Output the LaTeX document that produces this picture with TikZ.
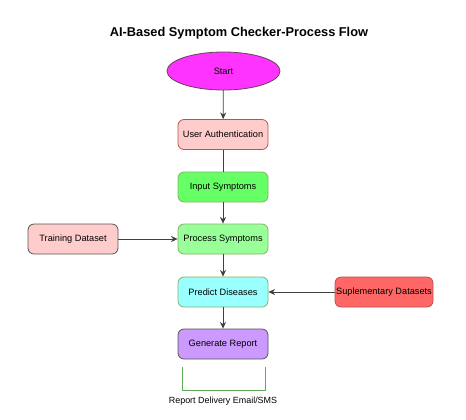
\documentclass[tikz,border=0pt]{standalone}
\usepackage{fontspec}
\setmainfont{Liberation Sans}
\usetikzlibrary{shapes.geometric,arrows.meta}
\definecolor{magentaF}{HTML}{FF33FF}
\definecolor{pinkF}{HTML}{FFCCCC}
\definecolor{redB}{HTML}{B85450}
\definecolor{greenF}{HTML}{66FF66}
\definecolor{lgreenF}{HTML}{99FF99}
\definecolor{greenB}{HTML}{82B366}
\definecolor{cyanF}{HTML}{99FFFF}
\definecolor{redF}{HTML}{FF6666}
\definecolor{purpleF}{HTML}{CC99FF}
\definecolor{grayB}{HTML}{555555}
\definecolor{bracketG}{HTML}{5AAA5A}
\begin{document}
\begin{tikzpicture}[x=0.75pt,y=-0.75pt,
  box/.style={draw, rounded corners=4.5pt, minimum width=67.5pt, minimum height=22.5pt, inner sep=0pt, font=\fontsize{6.9}{8}\selectfont, line width=0.6pt},
  flow/.style={-{Stealth[length=5pt,width=4.5pt]}, line width=0.6pt, draw=black!75},
  plain/.style={line width=0.6pt, draw=black!75}]
\useasboundingbox (0,0) rectangle (466,419);
\node[font=\bfseries\fontsize{9.6}{11}\selectfont] (title) at (239,33) {AI-Based Symptom Checker-Process Flow};
\node[ellipse, draw=black!70!magenta, fill=magentaF, minimum width=84.75pt, minimum height=28.5pt, inner sep=0pt, font=\fontsize{6.9}{8}\selectfont, line width=0.6pt] (start) at (223.5,71) {Start};
\node[box, draw=redB, fill=pinkF] (auth) at (223,134.5) {User Authentication};
\node[box, draw=greenB, fill=greenF] (input) at (223,187) {Input Symptoms};
\node[box, draw=greenB, fill=lgreenF] (proc) at (223,239) {Process Symptoms};
\node[box, draw=grayB, fill=pinkF] (train) at (73,239) {Training Dataset};
\node[box, draw=greenB, fill=cyanF] (pred) at (223,292) {Predict Diseases};
\node[box, draw=redB, fill=redF, minimum width=73.5pt] (supp) at (384,292) {Suplementary Datasets};
\node[box, draw=grayB, fill=purpleF] (gen) at (223,344) {Generate Report};
\node[font=\fontsize{6.7}{8}\selectfont] (deliv) at (223,401) {Report Delivery Email/SMS};
\coordinate (b1) at (182,367);
\coordinate (b2) at (182,390);
\coordinate (b3) at (265,390);
\coordinate (b4) at (265,367);
\draw[flow] (start) -- (auth);
\draw[plain] (auth) -- (input);
\draw[flow] (input) -- (proc);
\draw[flow] (proc) -- (pred);
\draw[flow] (pred) -- (gen);
\draw[flow] (train) -- (proc);
\draw[flow] (supp) -- (pred);
\draw[bracketG, line width=0.7pt] (b1) -- (b2) -- (b3) -- (b4);
\end{tikzpicture}
\end{document}
